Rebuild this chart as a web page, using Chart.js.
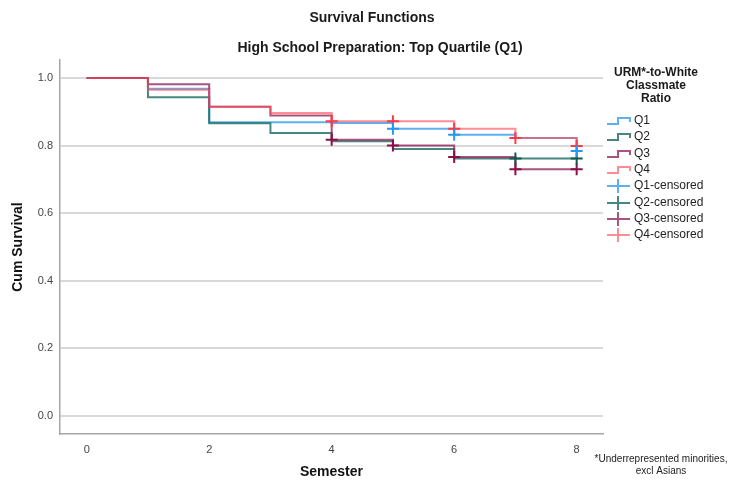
<!DOCTYPE html>
<html>
<head>
<meta charset="utf-8">
<title>Survival Functions</title>
<script src="https://cdn.jsdelivr.net/npm/chart.js@4.4.1/dist/chart.umd.min.js"></script>
<style>
  html, body { margin: 0; padding: 0; background: #fff; }
</style>
</head>
<body>
<canvas id="survChart" width="733" height="484"></canvas>
<script>
// Kaplan-Meier curves, one per classmate ratio quartile
const semesters = [0, 1, 2, 3, 4, 5, 6, 7, 8];
const survQ1 = [1.000, 0.968, 0.869, 0.869, 0.867, 0.850, 0.832, 0.822, 0.784];
const survQ2 = [1.000, 0.943, 0.866, 0.837, 0.813, 0.790, 0.762, 0.762, 0.762];
const survQ3 = [1.000, 0.981, 0.915, 0.889, 0.817, 0.800, 0.766, 0.730, 0.730];
const survQ4 = [1.000, 0.965, 0.915, 0.896, 0.872, 0.872, 0.850, 0.822, 0.799];

// semesters where a censored case is marked
const censQ1 = [5, 6, 8];
const censQ2 = [7, 8];
const censQ3 = [4, 5, 6, 7, 8];
const censQ4 = [4, 5, 6, 7, 8];

const groupNames = ['Q1', 'Q2', 'Q3', 'Q4'];
const xTicks = [0, 2, 4, 6, 8];
const yTicks = [0, 0.2, 0.4, 0.6, 0.8, 1.0];

const lineColors = ['rgba(40,150,235,0.75)', 'rgba(25,105,95,0.8)', 'rgba(140,25,85,0.75)', 'rgba(255,80,90,0.65)'];
const crossColors = ['#2a97ee', '#125a4e', '#8c1048', '#ff3a45'];

const FONT = '"Liberation Sans", Arial, sans-serif';

var survAll = [survQ1, survQ2, survQ3, survQ4];
var censAll = [censQ1, censQ2, censQ3, censQ4];

var datasets = [];
// censored crosses sit on top of the steps (lowest order is drawn last)
groupNames.forEach(function (g, i) {
  datasets.push({
    type: 'scatter',
    label: g + '-censored',
    order: 0,
    data: censAll[i].map(function (t) {
      return { x: t, y: survAll[i][semesters.indexOf(t)] };
    }),
    pointStyle: 'cross',
    pointRadius: 6,
    pointHoverRadius: 6,
    pointBorderWidth: 2,
    borderColor: crossColors[i],
    backgroundColor: crossColors[i]
  });
});
// Q1 drawn first, Q4 last
groupNames.forEach(function (g, i) {
  datasets.push({
    type: 'line',
    label: g,
    order: 5 - i,
    data: semesters.map(function (t, k) { return { x: t, y: survAll[i][k] }; }),
    stepped: 'before',
    borderColor: lineColors[i],
    borderWidth: 2,
    pointRadius: 0,
    fill: false
  });
});

// titles, legend and footnote drawn straight on the canvas
const annotate = {
  id: 'annotate',
  afterDraw: function (chart) {
    var ctx = chart.ctx;
    ctx.save();
    ctx.fillStyle = '#1a1a1a';
    ctx.textAlign = 'center';
    ctx.textBaseline = 'middle';
    ctx.font = 'bold 14px ' + FONT;
    ctx.fillText('Survival Functions', 372, 18);
    ctx.fillText('High School Preparation: Top Quartile (Q1)', 380, 48);

    ctx.font = 'bold 12px ' + FONT;
    ['URM*-to-White', 'Classmate', 'Ratio'].forEach(function (t, i) {
      ctx.fillText(t, 656, 73 + i * 13);
    });

    // legend rows: step icons, then cross icons
    ctx.textAlign = 'left';
    ctx.font = '12px ' + FONT;
    var rowY = 121;
    for (var i = 0; i < 8; i++) {
      var y = Math.round(rowY + i * 16.3);
      var k = i % 4;
      ctx.lineWidth = 2;
      ctx.strokeStyle = lineColors[k];
      ctx.beginPath();
      if (i < 4) {
        ctx.moveTo(607, y + 3);
        ctx.lineTo(618, y + 3);
        ctx.lineTo(618, y - 3);
        ctx.lineTo(630, y - 3);
        ctx.lineTo(630, y + 1);
      } else {
        ctx.moveTo(607, y);
        ctx.lineTo(630, y);
        ctx.moveTo(618, y - 7);
        ctx.lineTo(618, y + 7);
      }
      ctx.stroke();
      ctx.fillStyle = '#222';
      ctx.fillText(i < 4 ? groupNames[k] : groupNames[k] + '-censored', 634, y);
    }

    ctx.textAlign = 'center';
    ctx.fillStyle = '#222';
    ctx.font = '10px ' + FONT;
    ctx.fillText('*Underrepresented minorities,', 661, 459);
    ctx.fillText('excl Asians', 661, 471);
    ctx.restore();
  }
};

const survChart = new Chart(document.getElementById('survChart'), {
  data: { datasets: datasets },
  plugins: [annotate],
  options: {
    responsive: false,
    animation: false,
    layout: { padding: { top: 60, right: 130, left: 0, bottom: 0 } },
    plugins: {
      legend: { display: false },
      title: { display: false },
      tooltip: { enabled: false }
    },
    scales: {
      x: {
        type: 'linear',
        min: -0.436,
        max: 8.43,
        afterFit: function (scale) { scale.height = 50; },
        afterBuildTicks: function (scale) {
          scale.ticks = xTicks.map(function (v) { return { value: v }; });
        },
        grid: { display: false, drawTicks: false },
        border: { display: true, color: '#a6a6a6', width: 1.5 },
        ticks: {
          padding: 9,
          color: '#444',
          font: { family: FONT, size: 11 }
        },
        title: {
          display: true,
          text: 'Semester',
          color: '#111',
          padding: { top: 0, bottom: 3 },
          font: { family: FONT, size: 14, weight: 'bold' }
        }
      },
      y: {
        type: 'linear',
        min: -0.053,
        max: 1.053,
        afterFit: function (scale) { scale.width = 60; },
        afterBuildTicks: function (scale) {
          scale.ticks = yTicks.map(function (v) { return { value: v }; });
        },
        grid: { color: '#d9d9d9', lineWidth: 2, drawTicks: false },
        border: { display: true, color: '#a6a6a6', width: 1.5 },
        ticks: {
          padding: 7,
          color: '#444',
          font: { family: FONT, size: 11 },
          callback: function (v) { return Number(v).toFixed(1); }
        },
        title: {
          display: true,
          text: 'Cum Survival',
          color: '#111',
          padding: { top: 10, bottom: 0 },
          font: { family: FONT, size: 14, weight: 'bold' }
        }
      }
    }
  }
});
</script>
</body>
</html>
